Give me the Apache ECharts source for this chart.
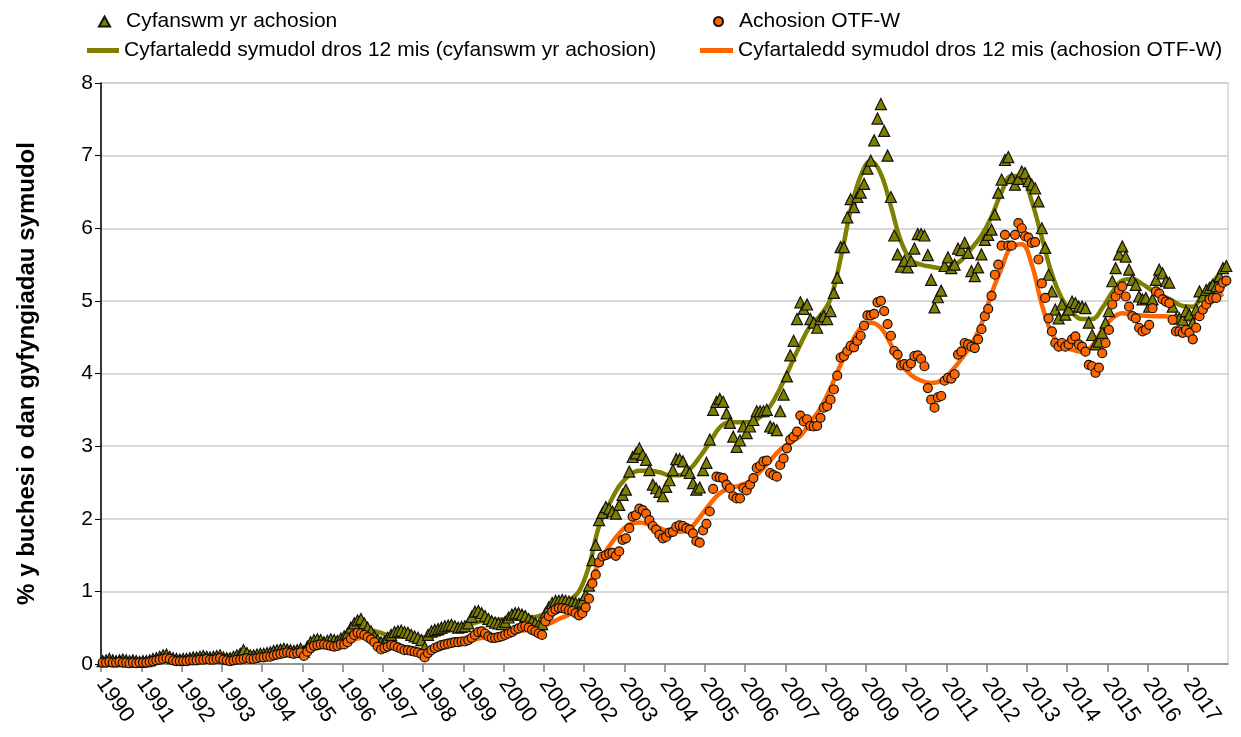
<!DOCTYPE html>
<html>
<head>
<meta charset="utf-8">
<script src="https://cdn.jsdelivr.net/npm/echarts@6/dist/echarts.min.js"></script>
<style>
  html, body { margin: 0; padding: 0; background: #fff; }
  #main { width: 1241px; height: 737px; }
</style>
</head>
<body>
<div id="main"></div>
<script>
var startYear = 1990;

// monthly, Jan 1990 .. Dec 2017 (one row per year)
var totalCases = [
  0.04, 0.05, 0.07, 0.05, 0.04, 0.05, 0.06, 0.05, 0.04, 0.05, 0.04, 0.03,
  0.04, 0.04, 0.05, 0.07, 0.08, 0.10, 0.12, 0.13, 0.10, 0.08, 0.07, 0.06,
  0.07, 0.07, 0.08, 0.09, 0.09, 0.10, 0.11, 0.10, 0.09, 0.10, 0.11, 0.12,
  0.09, 0.08, 0.08, 0.10, 0.12, 0.14, 0.19, 0.15, 0.12, 0.12, 0.13, 0.14,
  0.14, 0.15, 0.16, 0.18, 0.19, 0.20, 0.21, 0.20, 0.19, 0.18, 0.19, 0.21,
  0.17, 0.24, 0.30, 0.33, 0.34, 0.33, 0.30, 0.32, 0.34, 0.33, 0.32, 0.35,
  0.38, 0.42, 0.50, 0.56, 0.60, 0.62, 0.56, 0.50, 0.45, 0.38, 0.33, 0.30,
  0.31, 0.36, 0.40, 0.44, 0.45, 0.46, 0.44, 0.43, 0.40, 0.38, 0.36, 0.33,
  0.23, 0.40, 0.45, 0.47, 0.48, 0.50, 0.52, 0.53, 0.54, 0.52, 0.50, 0.51,
  0.52, 0.56, 0.65, 0.72, 0.73, 0.70, 0.66, 0.62, 0.59, 0.57, 0.56, 0.55,
  0.58, 0.64, 0.68, 0.70, 0.70, 0.68, 0.66, 0.62, 0.59, 0.56, 0.54, 0.55,
  0.70, 0.78, 0.84, 0.87, 0.87, 0.88, 0.87, 0.86, 0.85, 0.84, 0.83, 0.86,
  0.95, 1.08, 1.43, 1.64, 1.98, 2.08, 2.16, 2.14, 2.10, 2.07, 2.19, 2.33,
  2.40, 2.65, 2.85, 2.90, 2.97, 2.88, 2.81, 2.67, 2.47, 2.42, 2.37, 2.31,
  2.44, 2.53, 2.67, 2.82, 2.82, 2.79, 2.67, 2.63, 2.49, 2.40, 2.43, 2.67,
  2.77, 3.09, 3.50, 3.61, 3.65, 3.61, 3.45, 3.32, 3.13, 2.99, 3.08, 3.27,
  3.18, 3.27, 3.36, 3.48, 3.48, 3.48, 3.50, 3.27, 3.25, 3.22, 3.48, 3.71,
  3.96, 4.25, 4.45, 4.75, 4.98, 4.89, 4.95, 4.75, 4.70, 4.63, 4.75, 4.79,
  4.75, 4.86, 5.11, 5.32, 5.74, 5.74, 6.15, 6.40, 6.29, 6.43, 6.49, 6.61,
  6.82, 6.93, 7.21, 7.51, 7.71, 7.34, 7.00, 6.43, 5.90, 5.64, 5.47, 5.55,
  5.46, 5.55, 5.72, 5.92, 5.92, 5.90, 5.63, 5.29, 4.91, 5.05, 5.14, 5.48,
  5.60, 5.45, 5.50, 5.72, 5.70, 5.80, 5.66, 5.41, 5.34, 5.46, 5.64, 5.84,
  5.91, 5.98, 6.19, 6.49, 6.67, 6.94, 6.98, 6.69, 6.60, 6.68, 6.78, 6.76,
  6.65, 6.60, 6.55, 6.37, 6.00, 5.73, 5.36, 5.13, 4.88, 4.76, 4.95, 4.81,
  4.88, 4.99, 4.97, 4.92, 4.92, 4.90, 4.70, 4.53, 4.40, 4.44, 4.56, 4.70,
  4.86, 5.27, 5.45, 5.64, 5.75, 5.61, 5.43, 5.29, 5.22, 5.06, 5.02, 5.04,
  4.92, 5.02, 5.29, 5.43, 5.38, 5.27, 5.25, 4.92, 4.76, 4.76, 4.74, 4.86,
  4.81, 4.70, 4.88, 5.13, 5.06, 5.15, 5.18, 5.22, 5.20, 5.34, 5.45, 5.48
];

var otfCases = [
  0.02, 0.02, 0.03, 0.02, 0.02, 0.03, 0.02, 0.02, 0.01, 0.02, 0.01, 0.02,
  0.02, 0.02, 0.03, 0.04, 0.05, 0.06, 0.07, 0.08, 0.07, 0.05, 0.04, 0.04,
  0.04, 0.04, 0.05, 0.05, 0.05, 0.06, 0.06, 0.07, 0.06, 0.06, 0.07, 0.08,
  0.06, 0.05, 0.04, 0.05, 0.06, 0.06, 0.07, 0.08, 0.07, 0.07, 0.08, 0.09,
  0.09, 0.10, 0.10, 0.12, 0.13, 0.14, 0.15, 0.16, 0.15, 0.14, 0.15, 0.16,
  0.11, 0.17, 0.22, 0.25, 0.26, 0.27, 0.27, 0.26, 0.25, 0.24, 0.25, 0.27,
  0.27, 0.30, 0.35, 0.40, 0.43, 0.42, 0.40, 0.37, 0.34, 0.30, 0.24, 0.20,
  0.22, 0.24, 0.26, 0.25, 0.23, 0.21, 0.19, 0.19, 0.18, 0.17, 0.16, 0.14,
  0.09, 0.15, 0.19, 0.22, 0.24, 0.26, 0.27, 0.28, 0.29, 0.30, 0.30, 0.31,
  0.31, 0.33, 0.36, 0.40, 0.44, 0.45, 0.42, 0.38, 0.36, 0.36, 0.37, 0.38,
  0.40, 0.42, 0.44, 0.47, 0.49, 0.51, 0.52, 0.50, 0.47, 0.45, 0.42, 0.40,
  0.59, 0.66, 0.72, 0.75, 0.77, 0.77, 0.76, 0.74, 0.73, 0.70, 0.67, 0.70,
  0.78, 0.90, 1.11, 1.23, 1.40, 1.48, 1.50, 1.52, 1.53, 1.49, 1.55, 1.71,
  1.73, 1.87, 2.03, 2.05, 2.14, 2.12, 2.07, 1.98, 1.90, 1.85, 1.78, 1.73,
  1.75, 1.81, 1.82, 1.89, 1.91, 1.90, 1.87, 1.85, 1.80, 1.69, 1.67, 1.84,
  1.93, 2.10, 2.41, 2.58, 2.57, 2.56, 2.47, 2.42, 2.31, 2.28, 2.28, 2.42,
  2.39, 2.47, 2.56, 2.70, 2.73, 2.79, 2.80, 2.63, 2.60, 2.58, 2.74, 2.83,
  2.97, 3.09, 3.13, 3.20, 3.42, 3.34, 3.37, 3.28, 3.27, 3.28, 3.39, 3.53,
  3.55, 3.64, 3.78, 3.97, 4.22, 4.24, 4.31, 4.38, 4.36, 4.45, 4.52, 4.66,
  4.80, 4.80, 4.82, 4.98, 5.00, 4.86, 4.68, 4.52, 4.31, 4.26, 4.11, 4.13,
  4.10, 4.14, 4.24, 4.25, 4.20, 4.10, 3.80, 3.64, 3.53, 3.67, 3.69, 3.90,
  3.94, 3.93, 3.99, 4.26, 4.30, 4.42, 4.40, 4.37, 4.35, 4.47, 4.61, 4.79,
  4.89, 5.07, 5.36, 5.50, 5.76, 5.91, 5.76, 5.76, 5.91, 6.07, 6.00, 5.89,
  5.87, 5.80, 5.81, 5.57, 5.24, 5.04, 4.76, 4.58, 4.42, 4.37, 4.42, 4.37,
  4.40, 4.47, 4.51, 4.40, 4.37, 4.30, 4.12, 4.10, 4.01, 4.08, 4.28, 4.42,
  4.60, 4.95, 5.06, 5.15, 5.20, 5.06, 4.92, 4.79, 4.76, 4.63, 4.58, 4.60,
  4.67, 4.90, 5.13, 5.10, 5.02, 4.99, 4.97, 4.74, 4.58, 4.58, 4.56, 4.60,
  4.56, 4.47, 4.63, 4.79, 4.88, 4.95, 5.02, 5.04, 5.04, 5.18, 5.25, 5.28
];

// 12 month moving averages, read at the middle of each quarter
var maTotal = [
  0.05, 0.05, 0.05, 0.05,
  0.06, 0.08, 0.09, 0.09,
  0.09, 0.09, 0.10, 0.10,
  0.11, 0.12, 0.13, 0.14,
  0.16, 0.18, 0.19, 0.21,
  0.24, 0.28, 0.32, 0.35,
  0.40, 0.45, 0.47, 0.44,
  0.40, 0.38, 0.38, 0.37,
  0.37, 0.40, 0.46, 0.50,
  0.54, 0.58, 0.60, 0.61,
  0.62, 0.63, 0.64, 0.66,
  0.72, 0.78, 0.87, 1.00,
  1.35, 1.90, 2.20, 2.45,
  2.60, 2.66, 2.66, 2.64,
  2.60, 2.60, 2.68, 2.85,
  3.05, 3.26, 3.33, 3.33,
  3.33, 3.40, 3.55, 3.80,
  4.10, 4.40, 4.66, 4.80,
  5.03, 5.58, 6.25, 6.72,
  6.93, 6.75, 6.30, 5.82,
  5.56, 5.50, 5.47, 5.45,
  5.47, 5.56, 5.72, 5.90,
  6.16, 6.50, 6.72, 6.70,
  6.37, 5.87, 5.37, 5.03,
  4.84, 4.75, 4.75, 4.90,
  5.12, 5.28, 5.30, 5.23,
  5.14, 5.07, 5.00, 4.93,
  4.92, 5.10, 5.26, 5.43
];

var maOtf = [
  0.02, 0.02, 0.02, 0.02,
  0.03, 0.04, 0.05, 0.05,
  0.05, 0.05, 0.06, 0.06,
  0.06, 0.06, 0.07, 0.07,
  0.09, 0.11, 0.13, 0.15,
  0.18, 0.22, 0.25, 0.27,
  0.30, 0.35, 0.37, 0.33,
  0.27, 0.23, 0.21, 0.19,
  0.18, 0.20, 0.24, 0.28,
  0.32, 0.35, 0.37, 0.39,
  0.42, 0.45, 0.47, 0.50,
  0.55, 0.62, 0.68, 0.78,
  1.08, 1.40, 1.62, 1.80,
  1.92, 1.95, 1.92, 1.87,
  1.83, 1.82, 1.86, 2.02,
  2.20, 2.35, 2.42, 2.46,
  2.52, 2.65, 2.80, 2.95,
  3.05, 3.14, 3.33, 3.52,
  3.80, 4.12, 4.40, 4.63,
  4.70, 4.63, 4.40, 4.13,
  3.98, 3.90, 3.87, 3.90,
  4.03, 4.20, 4.40, 4.68,
  5.10, 5.45, 5.75, 5.78,
  5.50, 4.95, 4.55, 4.38,
  4.33, 4.30, 4.38, 4.60,
  4.76, 4.83, 4.81, 4.80,
  4.79, 4.79, 4.78, 4.73,
  4.75, 4.88, 5.00, 5.10
];

var nameTotal = 'Cyfanswm yr achosion';
var nameOtf = 'Achosion OTF-W';
var nameMaTotal = 'Cyfartaledd symudol dros 12 mis (cyfanswm yr achosion)';
var nameMaOtf = 'Cyfartaledd symudol dros 12 mis (achosion OTF-W)';

var olive = '#808000';
var orange = '#ff6600';
var font = '"Liberation Sans", Arial, sans-serif';

function monthly(arr) {
  return arr.map(function (v, i) { return [i + 0.5, v]; });
}
function quarterly(arr) {
  return arr.map(function (v, q) { return [q * 3 + 1.5, v]; });
}

var chart = echarts.init(document.getElementById('main'));

function legendText(padLeft) {
  return { fontFamily: font, fontSize: 21, color: '#000', padding: [0, 0, 0, padLeft] };
}

var option = {
  backgroundColor: '#fff',
  animation: false,
  textStyle: { fontFamily: font },
  grid: {
    left: 101, right: 13, top: 83, bottom: 73,
    show: true, borderColor: '#d4d4d4', borderWidth: 1.5
  },
  legend: [
    { data: [nameTotal], left: 98, top: 11, padding: 0, icon: 'triangle', itemWidth: 11, itemHeight: 10, textStyle: legendText(11) },
    { data: [nameOtf], left: 713, top: 11, padding: 0, icon: 'circle', itemWidth: 9, itemHeight: 9, textStyle: legendText(11) },
    { data: [nameMaTotal], left: 87, top: 40, padding: 0, icon: 'rect', itemWidth: 32, itemHeight: 5, textStyle: legendText(0) },
    { data: [nameMaOtf], left: 700, top: 40, padding: 0, icon: 'rect', itemWidth: 33, itemHeight: 5, textStyle: legendText(0) }
  ],
  xAxis: {
    type: 'value',
    min: 0,
    max: 336,
    interval: 12,
    splitLine: { show: false },
    axisLine: { lineStyle: { color: '#808080', width: 1.5 } },
    axisTick: { length: 8, lineStyle: { color: '#808080', width: 1.5 } },
    axisLabel: {
      rotate: -55,
      margin: 16,
      showMaxLabel: false,
      fontSize: 22,
      color: '#000',
      fontFamily: font,
      formatter: function (v) {
        return v < 336 ? String(startYear + v / 12) : '';
      }
    }
  },
  yAxis: {
    type: 'value',
    min: 0,
    max: 8,
    interval: 1,
    name: '% y buchesi o dan gyfyngiadau symudol',
    nameLocation: 'middle',
    nameGap: 62,
    nameTextStyle: { fontFamily: font, fontSize: 24, fontWeight: 'bold', color: '#000' },
    axisLine: { show: true, lineStyle: { color: '#000', width: 1.5 } },
    axisTick: { show: true, length: 6, lineStyle: { color: '#000' } },
    axisLabel: { fontSize: 21, color: '#000', margin: 8, fontFamily: font },
    splitLine: { lineStyle: { color: '#cccccc', width: 1.5 } }
  },
  series: [
    {
      name: nameMaTotal,
      type: 'line',
      data: quarterly(maTotal),
      smooth: 0.4,
      showSymbol: false,
      z: 2,
      itemStyle: { color: olive },
      lineStyle: { color: olive, width: 4.5 }
    },
    {
      name: nameMaOtf,
      type: 'line',
      data: quarterly(maOtf),
      smooth: 0.4,
      showSymbol: false,
      z: 2,
      itemStyle: { color: orange },
      lineStyle: { color: orange, width: 4.5 }
    },
    {
      name: nameTotal,
      type: 'scatter',
      data: monthly(totalCases),
      symbol: 'triangle',
      symbolSize: 11,
      z: 3,
      itemStyle: { color: olive, borderColor: '#111', borderWidth: 1.2, opacity: 1 }
    },
    {
      name: nameOtf,
      type: 'scatter',
      data: monthly(otfCases),
      symbol: 'circle',
      symbolSize: 9,
      z: 4,
      itemStyle: { color: orange, borderColor: '#111', borderWidth: 1.2, opacity: 1 }
    }
  ]
};

chart.setOption(option);
</script>
</body>
</html>
